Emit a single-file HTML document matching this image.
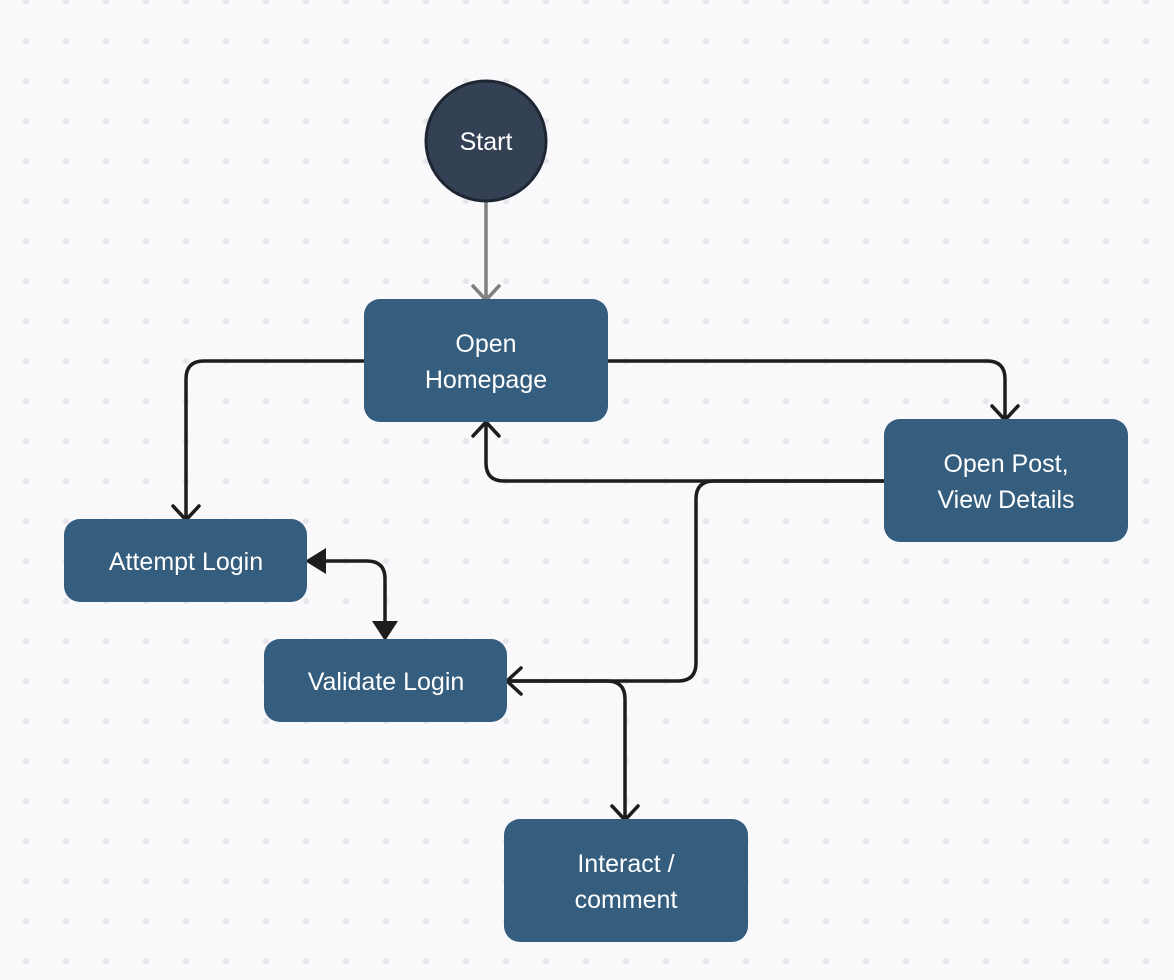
<!DOCTYPE html>
<html><head><style>
html,body{margin:0;padding:0;background:#f9f9fb;}
svg{display:block;}
text{font-family:"Liberation Sans","DejaVu Sans",sans-serif;font-size:25px;fill:#fff;text-anchor:middle;}
</style></head><body>
<svg width="1174" height="980" viewBox="0 0 1174 980" xmlns="http://www.w3.org/2000/svg">
<defs>
<pattern id="dots" x="6" y="21" width="40" height="40" patternUnits="userSpaceOnUse">
<circle cx="20" cy="20" r="3" fill="#e6e6ea"/>
</pattern>
</defs>
<rect width="1174" height="980" fill="#f9f9fb"/>
<rect width="1174" height="980" fill="url(#dots)"/>

<g fill="none" stroke="#1d1d1d" stroke-width="3.5" stroke-linecap="round" stroke-linejoin="round">
<path d="M486 200 V299" stroke="#808080"/>
<path d="M473 286 L486 300 L499 286" stroke="#808080"/>
<path d="M364 361 H204 Q186 361 186 379 V519"/>
<path d="M173 506 L186 520 L199 506"/>
<path d="M608 361 H987 Q1005 361 1005 379 V419"/>
<path d="M992 406 L1005 420 L1018 406"/>
<path d="M886 481 H504 Q486 481 486 463 V423"/>
<path d="M473 436 L486 422 L499 436"/>
<path d="M886 481 H714 Q696 481 696 499 V663 Q696 681 678 681 H508"/>
<path d="M521 668 L507 681 L521 694"/>
<path d="M320 561 H367 Q385 561 385 579 V625"/>
<path d="M508 681 H607 Q625 681 625 699 V819"/>
<path d="M612 806 L625 820 L638 806"/>
</g>
<polygon points="305,561 326,548 326,574" fill="#1d1d1d"/>
<polygon points="385,641 372,621 398,621" fill="#1d1d1d"/>

<circle cx="486" cy="141" r="60" fill="#344154" stroke="#1e2533" stroke-width="3"/>
<text x="486" y="150">Start</text>

<g fill="#345d7e">
<rect x="364" y="299" width="244" height="123" rx="16"/>
<rect x="884" y="419" width="244" height="123" rx="16"/>
<rect x="64" y="519" width="243" height="83" rx="16"/>
<rect x="264" y="639" width="243" height="83" rx="16"/>
<rect x="504" y="819" width="244" height="123" rx="16"/>
</g>
<text x="486" y="352">Open</text>
<text x="486" y="388">Homepage</text>
<text x="1006" y="472">Open Post,</text>
<text x="1006" y="508">View Details</text>
<text x="186" y="570">Attempt Login</text>
<text x="386" y="690">Validate Login</text>
<text x="626" y="872">Interact /</text>
<text x="626" y="908">comment</text>
</svg>
</body></html>
